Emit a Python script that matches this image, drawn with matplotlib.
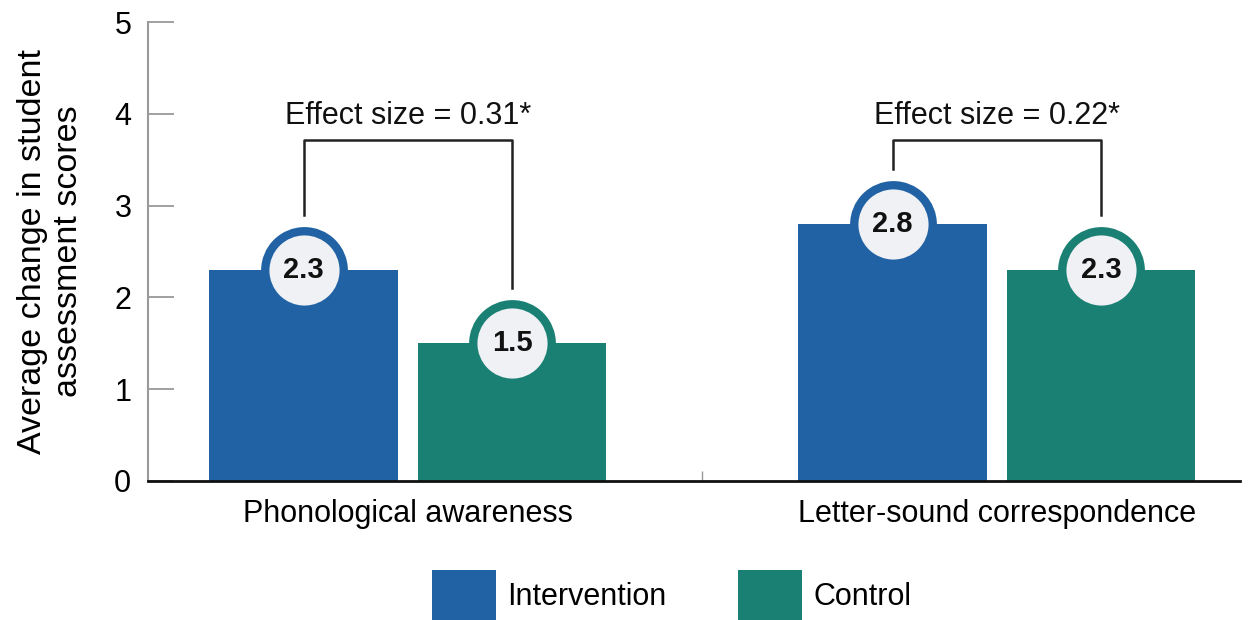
import matplotlib.pyplot as plt
from matplotlib.patches import Patch

plt.rcParams['font.family'] = ['Liberation Sans', 'DejaVu Sans']

categories = ["Phonological awareness", "Letter-sound correspondence"]
intervention = [2.3, 2.8]
control = [1.5, 2.3]
effect_labels = ["Effect size = 0.31*", "Effect size = 0.22*"]

blue = "#2062a3"
green = "#1b8074"
fill = "#f0f1f5"

fig = plt.figure(figsize=(12.48, 6.2), dpi=100)
ax = fig.add_axes([0.1186, 0.2242, 0.875, 0.7403])

x = [0, 1]
w = 0.32
off = 0.177
ax.bar([i - off for i in x], intervention, width=w, color=blue, zorder=2)
ax.bar([i + off for i in x], control, width=w, color=green, zorder=2)

# value badges sitting on the bar tops
for vals, sgn, col in [(intervention, -1, blue), (control, 1, green)]:
    for i, v in zip(x, vals):
        ax.plot(i + sgn * off, v, marker='o', ms=56.5, mfc=fill, mec=col,
                mew=6.0, zorder=3, clip_on=False)
        ax.text(i + sgn * off, v, f"{v:.1f}", ha='center', va='center',
                fontsize=21, fontweight='bold', color='#111111', zorder=4)

# effect size brackets
top = 3.71
for i, lab in zip(x, effect_labels):
    a = i - off
    b = i + off
    ya = intervention[i] + 0.6
    yb = control[i] + 0.6
    ax.plot([a, a, b, b], [ya, top, top, yb], color='#222222', lw=1.8, zorder=1)
    ax.text(i, top + 0.1, lab, ha='center', va='bottom', fontsize=22, color='#111111')

ax.set_xlim(-0.441, 1.413)
ax.set_ylim(0, 5)
ax.set_yticks([0, 1, 2, 3, 4, 5])
ax.set_xticks(x)
ax.set_xticklabels(categories, fontsize=22)
ax.set_xticks([0.5], minor=True)
ax.tick_params(axis='x', which='major', length=0, pad=13)
ax.tick_params(axis='x', which='minor', direction='in', length=7, color='#999999', width=1)
ax.tick_params(axis='y', direction='in', length=19, color='#999999', width=1.3,
               labelsize=22, pad=12)
ax.set_ylabel("Average change in student\nassessment scores", fontsize=24.5, labelpad=22)

for s in ['top', 'right']:
    ax.spines[s].set_visible(False)
ax.spines['left'].set_color('#999999')
ax.spines['left'].set_linewidth(1.5)
ax.spines['bottom'].set_color('#111111')
ax.spines['bottom'].set_linewidth(2)

handles = [Patch(facecolor=blue, label="Intervention"), Patch(facecolor=green, label="Control")]
fig.legend(handles=handles, loc='center', bbox_to_anchor=(0.538, 0.04), ncol=2,
           frameon=False, fontsize=22, handlelength=2.1, handleheight=2.2,
           columnspacing=2.35, handletextpad=0.36, borderpad=0)

fig.savefig("out.png", dpi=100)
